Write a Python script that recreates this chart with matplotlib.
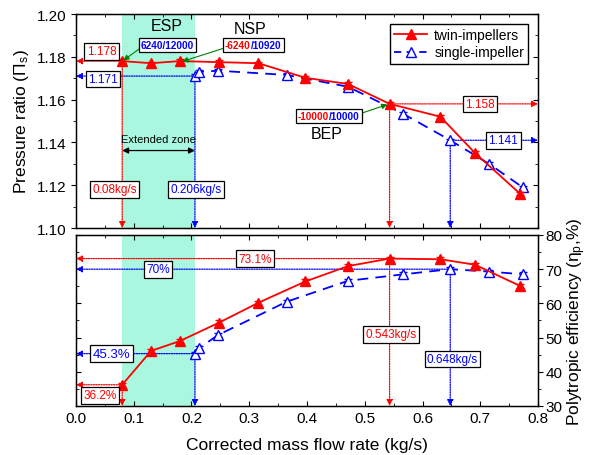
import matplotlib
matplotlib.use("Agg")
import matplotlib.pyplot as plt
from matplotlib.lines import Line2D
from matplotlib.offsetbox import TextArea, HPacker, AnnotationBbox
import numpy as np

plt.rcParams['font.family'] = ['Liberation Sans', 'DejaVu Sans']
plt.rcParams['mathtext.fontset'] = 'custom'
plt.rcParams['mathtext.rm'] = 'Liberation Sans'
plt.rcParams['mathtext.it'] = 'Liberation Sans'

# ---- data ----
twin_flow = [0.08, 0.13, 0.18, 0.248, 0.316, 0.397, 0.471, 0.543, 0.631, 0.691, 0.769]
twin_pr = [1.178, 1.177, 1.178, 1.1775, 1.177, 1.1702, 1.1673, 1.158, 1.152, 1.135, 1.116]
twin_eff = [36.2, 46.1, 49.0, 54.4, 60.2, 66.4, 70.9, 73.1, 72.9, 71.3, 65.1]

single_flow = [0.206, 0.213, 0.2465, 0.365, 0.471, 0.567, 0.648, 0.715, 0.7735]
single_pr = [1.171, 1.173, 1.1735, 1.1715, 1.166, 1.1533, 1.141, 1.130, 1.119]
single_eff = [45.3, 46.9, 50.8, 60.5, 66.6, 68.5, 70.0, 69.3, 68.5]

pr_err = 0.0008
eff_err = 0.6

esp_zone = [0.08, 0.206]
RED = '#ff0000'
BLUE = '#0000ff'
GREEN = '#008000'
DASH = (0, (6, 4))

fig = plt.figure(figsize=(5.9, 4.56), dpi=100)
ax1 = fig.add_axes([0.1288, 0.4978, 0.7831, 0.4693])
ax2 = fig.add_axes([0.1288, 0.1075, 0.7831, 0.3750])

for ax in (ax1, ax2):
    ax.axvspan(esp_zone[0], esp_zone[1], color='#aaf7df', zorder=0, lw=0)
    ax.set_xlim(0.0, 0.8)
    ax.set_xticks(np.arange(0, 0.81, 0.1))
    ax.set_xticks(np.arange(0.05, 0.8, 0.1), minor=True)
    ax.tick_params(axis='x', which='both', direction='in', top=True, bottom=True)
    for s in ax.spines.values():
        s.set_linewidth(1.0)

# ---- top panel ----
ax1.errorbar(twin_flow, twin_pr, yerr=pr_err, color=RED, marker='^', ms=7, lw=1.3,
             capsize=3, elinewidth=0.8, zorder=5)
ax1.errorbar(single_flow, single_pr, yerr=pr_err, color=BLUE, marker='^', ms=7, lw=1.3,
             mfc='white', ls=DASH, capsize=3, elinewidth=0.8, zorder=4)
ax1.set_ylim(1.10, 1.20)
ax1.set_yticks(np.arange(1.10, 1.201, 0.02))
ax1.set_yticks(np.arange(1.11, 1.20, 0.02), minor=True)
ax1.tick_params(axis='y', which='both', direction='out', left=True, right=False)
ax1.tick_params(axis='x', labelbottom=False)
ax1.tick_params(labelsize=11)
ax1.set_ylabel('Pressure ratio (Π$_s$)', fontsize=12.5)
ax1r = ax1.twinx()
ax1r.set_ylim(1.10, 1.20)
ax1r.set_yticks(np.arange(1.10, 1.201, 0.02))
ax1r.set_yticks(np.arange(1.11, 1.20, 0.02), minor=True)
ax1r.tick_params(axis='y', which='both', direction='in', labelright=False)

handles = [Line2D([], [], color=RED, marker='^', ms=7, lw=1.3),
           Line2D([], [], color=BLUE, marker='^', ms=7, lw=1.3, mfc='white', ls=(0, (4, 3)))]
leg = ax1r.legend(handles, ['twin-impellers', 'single-impeller'], loc='upper right',
                  fontsize=10, frameon=True, fancybox=False, framealpha=1,
                  edgecolor='black', handlelength=2.4, borderpad=0.3, labelspacing=0.25,
                  handletextpad=0.5, borderaxespad=0.7)
leg.get_frame().set_linewidth(1.0)

box_kw = dict(boxstyle='square,pad=0.2', fc='white', ec='black', lw=0.9)

def harrow(ax, x0, x1, y, c):
    ax.annotate('', xy=(x1, y), xytext=(x0, y),
                arrowprops=dict(arrowstyle='-|>', color=c, lw=0.9, ls=(0, (1, 1)),
                                mutation_scale=9, shrinkA=0, shrinkB=0), zorder=3)

def varrow(ax, x, y0, y1, c):
    ax.annotate('', xy=(x, y1), xytext=(x, y0),
                arrowprops=dict(arrowstyle='-|>', color=c, lw=0.9, ls=(0, (1, 1)),
                                mutation_scale=9, shrinkA=0, shrinkB=0), zorder=3)

def ratio_box(ax, x, y, parts):
    areas = [TextArea(t, textprops=dict(color=c, fontsize=7.2, fontweight='bold'))
             for t, c in parts]
    pk = HPacker(children=areas, align='baseline', pad=0, sep=0)
    ab = AnnotationBbox(pk, (x, y), xycoords='data', frameon=True, pad=0.15,
                        bboxprops=dict(boxstyle='square,pad=0.15', fc='white', ec='black', lw=0.9),
                        zorder=7)
    ax.add_artist(ab)

def green_arrow(ax, start, end):
    ax.annotate('', xy=end, xytext=start,
                arrowprops=dict(arrowstyle='-|>', color=GREEN, lw=0.8, mutation_scale=8,
                                shrinkA=0, shrinkB=0), zorder=6)

# top annotations
harrow(ax1, twin_flow[0], 0.0, twin_pr[0], RED)
harrow(ax1, single_flow[0], 0.0, single_pr[0], BLUE)
varrow(ax1, twin_flow[0], twin_pr[0], 1.10, RED)
varrow(ax1, single_flow[0], single_pr[0], 1.10, BLUE)
harrow(ax1, twin_flow[7], 0.8, twin_pr[7], RED)
harrow(ax1, single_flow[6], 0.8, single_pr[6], BLUE)
varrow(ax1, twin_flow[7], twin_pr[7], 1.10, RED)
varrow(ax1, single_flow[6], single_pr[6], 1.10, BLUE)

ax1.text(0.044, 1.1825, '1.178', color=RED, fontsize=8.5, ha='center', va='center', bbox=box_kw, zorder=6)
ax1.text(0.047, 1.1696, '1.171', color=BLUE, fontsize=8.5, ha='center', va='center', bbox=box_kw, zorder=6)
ax1.text(0.067, 1.118, '0.08kg/s', color=RED, fontsize=8.5, ha='center', va='center', bbox=box_kw, zorder=6)
ax1.text(0.208, 1.118, '0.206kg/s', color=BLUE, fontsize=8.5, ha='center', va='center', bbox=box_kw, zorder=6)
ax1.text(0.70, 1.158, '1.158', color=RED, fontsize=8.5, ha='center', va='center', bbox=box_kw, zorder=6)
ax1.text(0.74, 1.141, '1.141', color=BLUE, fontsize=8.5, ha='center', va='center', bbox=box_kw, zorder=6)

ax1.text(0.143, 1.1418, 'Extended zone', fontsize=8, ha='center', va='center')
ax1.annotate('', xy=(0.08, 1.1362), xytext=(0.206, 1.1362),
             arrowprops=dict(arrowstyle='<|-|>', color='black', lw=0.9, mutation_scale=9,
                             shrinkA=0, shrinkB=0))
ax1.text(0.157, 1.1945, 'ESP', fontsize=11.5, ha='center', va='center')
ax1.text(0.301, 1.193, 'NSP', fontsize=11.5, ha='center', va='center')
ax1.text(0.434, 1.144, 'BEP', fontsize=11.5, ha='center', va='center')

ratio_box(ax1, 0.158, 1.1856, [('6240/12000', BLUE)])
green_arrow(ax1, (0.112, 1.1842), (twin_flow[0] + 0.002, twin_pr[0] + 0.0003))
ratio_box(ax1, 0.307, 1.1856, [('-6240', RED), ('/10920', BLUE)])
green_arrow(ax1, (0.258, 1.1842), (twin_flow[2] + 0.004, twin_pr[2] - 0.0002))
ratio_box(ax1, 0.438, 1.1525, [('-10000', RED), ('/10000', BLUE)])
green_arrow(ax1, (0.493, 1.1535), (twin_flow[7] - 0.004, twin_pr[7] - 0.0003))

# ---- bottom panel ----
ax2.errorbar(twin_flow, twin_eff, yerr=eff_err, color=RED, marker='^', ms=7, lw=1.3,
             capsize=3, elinewidth=0.8, zorder=5)
ax2.errorbar(single_flow, single_eff, yerr=eff_err, color=BLUE, marker='^', ms=7, lw=1.3,
             mfc='white', ls=DASH, capsize=3, elinewidth=0.8, zorder=4)
ax2.set_ylim(30, 80)
ax2.set_yticks(np.arange(30, 81, 10))
ax2.set_yticks(np.arange(35, 80, 10), minor=True)
ax2.tick_params(axis='y', which='both', direction='in', left=True, labelleft=False,
                right=False, labelright=False)
ax2.tick_params(labelsize=11)
ax2.set_xlabel('Corrected mass flow rate (kg/s)', fontsize=12.5, labelpad=9)
ax2r = ax2.twinx()
ax2r.set_ylim(30, 80)
ax2r.set_yticks(np.arange(30, 81, 10))
ax2r.set_yticks(np.arange(35, 80, 10), minor=True)
ax2r.tick_params(axis='y', which='both', direction='out', labelsize=11, pad=2)
ax2r.set_ylabel('Polytropic efficiency (η$_p$,%)', fontsize=12.5, labelpad=2)

harrow(ax2, twin_flow[7], 0.0, twin_eff[7], RED)
harrow(ax2, single_flow[6], 0.0, single_eff[6], BLUE)
varrow(ax2, twin_flow[7], twin_eff[7], 30, RED)
varrow(ax2, single_flow[6], single_eff[6], 30, BLUE)
harrow(ax2, single_flow[0], 0.0, single_eff[0], BLUE)
varrow(ax2, single_flow[0], single_eff[0], 30, BLUE)
harrow(ax2, twin_flow[0], 0.0, twin_eff[0], RED)
varrow(ax2, twin_flow[0], twin_eff[0], 30, RED)

ax2.text(0.31, 73.1, '73.1%', color=RED, fontsize=8.5, ha='center', va='center', bbox=box_kw, zorder=6)
ax2.text(0.142, 70.0, '70%', color=BLUE, fontsize=8.5, ha='center', va='center', bbox=box_kw, zorder=6)
ax2.text(0.546, 51.0, '0.543kg/s', color=RED, fontsize=8.5, ha='center', va='center', bbox=box_kw, zorder=6)
ax2.text(0.652, 43.7, '0.648kg/s', color=BLUE, fontsize=8.5, ha='center', va='center', bbox=box_kw, zorder=6)
ax2.text(0.062, 45.3, '45.3%', color=BLUE, fontsize=9.5, ha='center', va='center', bbox=box_kw, zorder=6)
ax2.text(0.041, 33.1, '36.2%', color=RED, fontsize=8.5, ha='center', va='center', bbox=box_kw, zorder=6)

fig.savefig('out.png', dpi=100)
